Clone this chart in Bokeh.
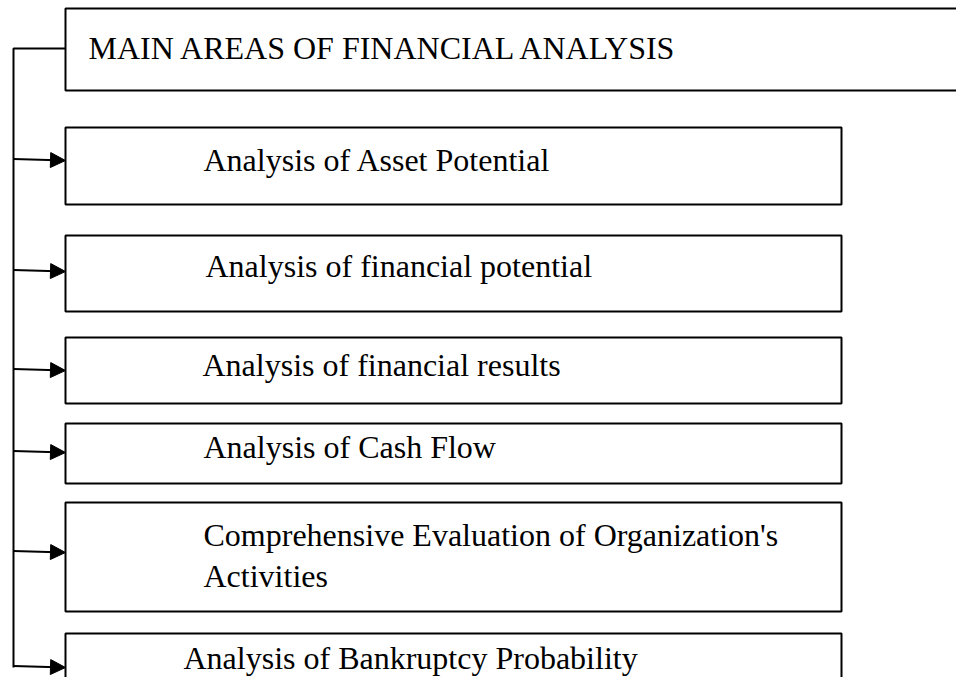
from bokeh.plotting import figure
from bokeh.models import Range1d, Arrow, NormalHead, ColumnDataSource
from bokeh.core.properties import value
from bokeh.embed import file_html
from bokeh.resources import INLINE

# ---- content ----
title_label = "MAIN AREAS OF FINANCIAL ANALYSIS"
area_labels = [
    "Analysis of Asset Potential",
    "Analysis of financial potential",
    "Analysis of financial results",
    "Analysis of Cash Flow",
    "Comprehensive Evaluation of Organization's\nActivities",
    "Analysis of Bankruptcy Probability",
]

# ---- layout (reference pixel coordinates, y grows downward) ----
box_top = [127, 235, 337, 423, 502, 633]
box_bottom = [204, 311, 403, 483, 611, 720]
arrow_y = [160, 271, 370, 452, 552, 667]
text_x = [203, 205, 202, 203, 203, 183]
text_base = [170, 276, 375, 457, 545, 668]
line_gap = 41
baseline_fix = -11   # renderer places alphabetic baseline lower than requested

box_left, box_right = 65, 841
spine_x = 13
title_box = dict(left=65, right=990, top=8, bottom=90)
title_pos = (88, 58)

FONT = value("Liberation Serif")
FSIZE = "32px"

p = figure(width=956, height=677, x_range=Range1d(0, 956), y_range=Range1d(677, 0),
           output_backend="svg", toolbar_location=None, min_border=0)
p.axis.visible = False
p.grid.visible = False
p.outline_line_color = None
p.background_fill_color = "white"
p.border_fill_color = "white"

# title box
p.quad(left=[title_box["left"]], right=[title_box["right"]], top=[title_box["top"]],
       bottom=[title_box["bottom"]], fill_color="white", line_color="black", line_width=2)
p.text(x=[title_pos[0]], y=[title_pos[1] + baseline_fix], text=[title_label], text_font=FONT,
       text_font_size=FSIZE, text_baseline="alphabetic", text_color="black")

# area boxes
n = len(area_labels)
p.quad(left=[box_left] * n, right=[box_right] * n, top=box_top, bottom=box_bottom,
       fill_color="white", line_color="black", line_width=2)

tx, ty, tt = [], [], []
for i, lab in enumerate(area_labels):
    for j, line in enumerate(lab.split("\n")):
        tx.append(text_x[i])
        ty.append(text_base[i] + j * line_gap + baseline_fix)
        tt.append(line)
p.text(x=tx, y=ty, text=tt, text_font=FONT, text_font_size=FSIZE,
       text_baseline="alphabetic", text_color="black")

# connector spine
title_mid = 48
p.line(x=[box_left, spine_x, spine_x], y=[title_mid, title_mid, arrow_y[-1]],
       line_color="black", line_width=2)

# arrows into each box
src = ColumnDataSource(dict(xs=[spine_x] * n, ys=[y - 1.5 for y in arrow_y],
                            xe=[box_left] * n, ye=arrow_y))
p.add_layout(Arrow(end=NormalHead(size=15, line_color="black", fill_color="black", line_width=1),
                   x_start="xs", y_start="ys", x_end="xe", y_end="ye", source=src,
                   line_color="black", line_width=2))

open("out.html", "w").write(file_html(p, INLINE))
